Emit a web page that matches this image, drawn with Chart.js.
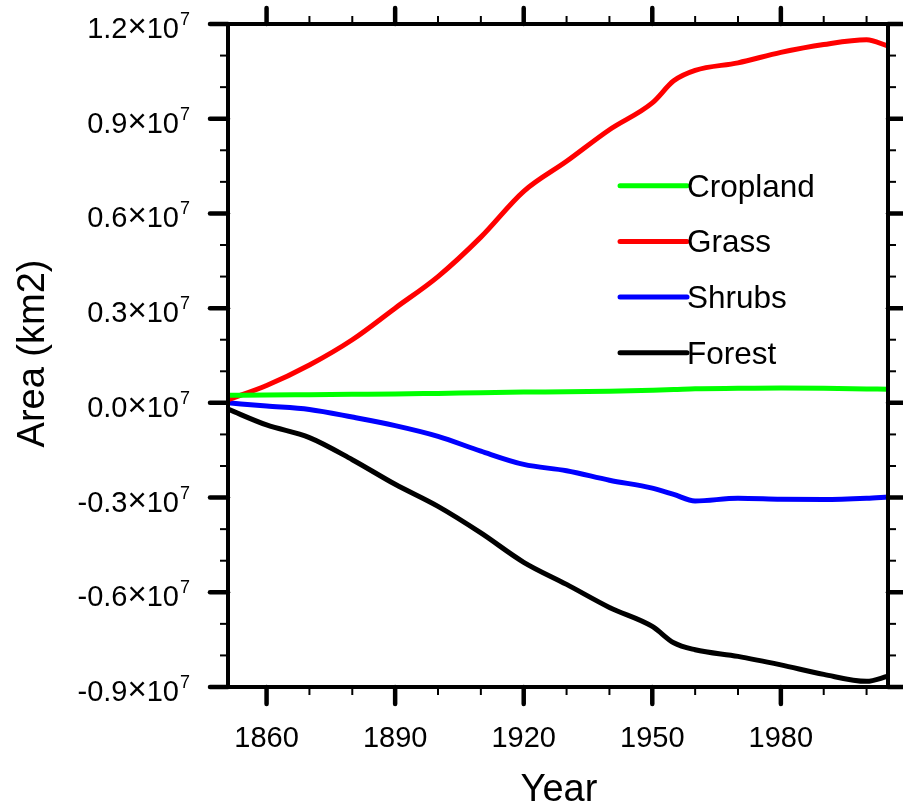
<!DOCTYPE html>
<html>
<head>
<meta charset="utf-8">
<title>Land cover area change</title>
<script src="https://cdn.jsdelivr.net/npm/chart.js@4/dist/chart.umd.min.js"></script>
<style>
  html, body { margin: 0; padding: 0; background: #fff; }
  #wrap { width: 903px; height: 805px; }
</style>
</head>
<body>
<div id="wrap"><canvas id="c" width="903" height="805"></canvas></div>
<script>
// Change in area per land-cover type, in units of 10^7 km2
const years    = [1851, 1860, 1870, 1880, 1890, 1900, 1910, 1920, 1930, 1940, 1950, 1955, 1960, 1970, 1980, 1990, 2000, 2005];
const cropland = [0.024, 0.025, 0.026, 0.027, 0.028, 0.030, 0.032, 0.034, 0.035, 0.037, 0.040, 0.042, 0.045, 0.046, 0.047, 0.046, 0.044, 0.043];
const grass    = [0.01, 0.055, 0.12, 0.20, 0.30, 0.40, 0.525, 0.67, 0.765, 0.865, 0.95, 1.02, 1.053, 1.077, 1.11, 1.135, 1.15, 1.13];
const shrubs   = [0.0, -0.01, -0.021, -0.045, -0.072, -0.106, -0.153, -0.195, -0.215, -0.245, -0.27, -0.29, -0.311, -0.302, -0.305, -0.306, -0.302, -0.298];
const forest   = [-0.02, -0.07, -0.11, -0.18, -0.258, -0.328, -0.412, -0.505, -0.575, -0.648, -0.708, -0.76, -0.782, -0.803, -0.83, -0.86, -0.882, -0.866];

const seriesNames  = ['Cropland', 'Grass', 'Shrubs', 'Forest'];
const seriesColors = ['#00ff00', '#ff0000', '#0000ff', '#000000'];

const yMajorTicks = [-0.9, -0.6, -0.3, 0.0, 0.3, 0.6, 0.9, 1.2];
const yMinorTicks = [-0.8, -0.7, -0.5, -0.4, -0.2, -0.1, 0.1, 0.2, 0.4, 0.5, 0.7, 0.8, 1.0, 1.1];
const xMajorTicks = [1860, 1890, 1920, 1950, 1980];
const xMinorTicks = [1870, 1880, 1900, 1910, 1930, 1940, 1960, 1970, 1990, 2000];

const FONT = '"Liberation Sans", Arial, Helvetica, sans-serif';

function pts(vals) { return years.map((y, i) => ({ x: y, y: vals[i] })); }

// Frame, NCL-style outward ticks, labels, titles and the in-plot legend
const decorations = {
  id: 'decorations',
  afterDraw(chart) {
    const ctx = chart.ctx;
    const a = chart.chartArea;
    const xs = chart.scales.x, ys = chart.scales.y;
    ctx.save();
    ctx.strokeStyle = '#000';
    ctx.fillStyle = '#000';

    // ticks
    const tick = (x1, y1, x2, y2, w) => {
      ctx.lineWidth = w;
      ctx.beginPath(); ctx.moveTo(x1, y1); ctx.lineTo(x2, y2); ctx.stroke();
    };
    ctx.lineCap = 'butt';
    yMinorTicks.forEach(v => {
      const p = ys.getPixelForValue(v);
      tick(a.left - 8, p, a.left, p, 2);
      tick(a.right, p, a.right + 8, p, 2);
    });
    xMinorTicks.forEach(v => {
      const p = xs.getPixelForValue(v);
      tick(p, a.bottom, p, a.bottom + 8, 2);
      tick(p, a.top - 8, p, a.top, 2);
    });
    ctx.lineCap = 'round';
    yMajorTicks.forEach(v => {
      const p = ys.getPixelForValue(v);
      tick(a.left - 18, p, a.left, p, 4.5);
      tick(a.right, p, a.right + 16, p, 4.5);
    });
    xMajorTicks.forEach(v => {
      const p = xs.getPixelForValue(v);
      tick(p, a.bottom, p, a.bottom + 17, 4.5);
      tick(p, a.top - 16, p, a.top, 4.5);
    });

    // frame
    ctx.lineCap = 'butt';
    ctx.lineJoin = 'miter';
    ctx.lineWidth = 4;
    ctx.strokeRect(a.left, a.top, a.right - a.left, a.bottom - a.top);

    // y tick labels: "d.d×10" with superscript exponent
    ctx.textAlign = 'left';
    ctx.textBaseline = 'alphabetic';
    yMajorTicks.forEach(v => {
      const p = ys.getPixelForValue(v);
      const num = v.toFixed(1);
      const numFont = '29px ' + FONT, timesFont = '33px ' + FONT, supFont = '18px ' + FONT;
      ctx.font = numFont;
      const wNum = ctx.measureText(num).width;
      const wTen = ctx.measureText('10').width;
      ctx.font = timesFont;
      const wTimes = ctx.measureText('\u00d7').width;
      ctx.font = supFont;
      const wSup = ctx.measureText('7').width;
      const right = a.left - 38;
      let x = right - wSup - 1 - wTen - wTimes - wNum;
      ctx.font = numFont;
      ctx.fillText(num, x, p + 14); x += wNum;
      ctx.font = timesFont;
      ctx.fillText('\u00d7', x, p + 13); x += wTimes;
      ctx.font = numFont;
      ctx.fillText('10', x, p + 14); x += wTen + 1;
      ctx.font = supFont;
      ctx.fillText('7', x, p + 1);
    });

    // x tick labels
    ctx.font = '29px ' + FONT;
    ctx.textAlign = 'center';
    xMajorTicks.forEach(v => {
      ctx.fillText(String(v), xs.getPixelForValue(v), a.bottom + 60);
    });

    // axis titles
    ctx.font = '38px ' + FONT;
    ctx.fillText('Year', (a.left + a.right) / 2 + 1, 801);
    ctx.save();
    ctx.translate(44, (a.top + a.bottom) / 2 - 2);
    ctx.rotate(-Math.PI / 2);
    ctx.fillText('Area (km2)', 0, 0);
    ctx.restore();

    // legend
    const w = a.right - a.left, h = a.bottom - a.top;
    const lx0 = a.left + 0.594 * w, lx1 = a.left + 0.6955 * w;
    ctx.font = '31.5px ' + FONT;
    ctx.textAlign = 'left';
    chart.data.datasets.forEach((ds, i) => {
      const ly = a.top + (0.2439 + i * 0.084) * h;
      ctx.strokeStyle = ds.borderColor;
      ctx.lineWidth = 5;
      ctx.lineCap = 'round';
      ctx.beginPath(); ctx.moveTo(lx0, ly); ctx.lineTo(lx1, ly); ctx.stroke();
      ctx.fillStyle = '#000';
      ctx.fillText(ds.label, lx1, ly + 11);
    });
    ctx.restore();
  }
};

const seriesValues = [cropland, grass, shrubs, forest];

new Chart(document.getElementById('c'), {
  type: 'line',
  data: {
    datasets: seriesNames.map((name, i) => ({
      label: name,
      data: pts(seriesValues[i]),
      borderColor: seriesColors[i],
      backgroundColor: seriesColors[i],
      borderWidth: 5,
      pointRadius: 0,
      cubicInterpolationMode: 'monotone',
      fill: false
    }))
  },
  options: {
    responsive: false,
    animation: false,
    layout: { padding: { left: 228, right: 15, top: 24, bottom: 118 } },
    plugins: { legend: { display: false }, tooltip: { enabled: false } },
    scales: {
      x: { type: 'linear', min: 1851, max: 2005, display: false },
      y: { type: 'linear', min: -0.9, max: 1.2, display: false }
    }
  },
  plugins: [decorations]
});
</script>
</body>
</html>
